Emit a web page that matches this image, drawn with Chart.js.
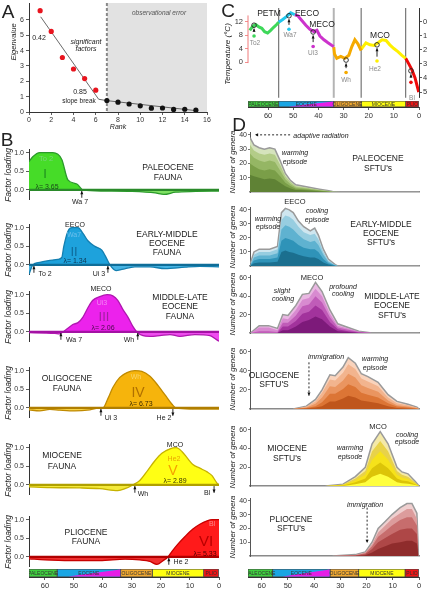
<!DOCTYPE html>
<html lang="en">
<head>
<meta charset="UTF-8">
<title>Factors, faunas and SFTUs</title>
<script src="https://cdn.jsdelivr.net/npm/chart.js@4.4.1/dist/chart.umd.min.js"></script>
<style>
  html, body { margin: 0; padding: 0; background: #fff; }
  #fig { position: relative; width: 431px; height: 592px; overflow: hidden;
         font-family: "Liberation Sans", Arial, sans-serif; color: #222; }
  #fig canvas { position: absolute; }
  .t { position: absolute; transform: translate(-50%, -50%); white-space: nowrap; line-height: 1; z-index: 2; }
  .r { transform: translate(-50%, -50%) rotate(-90deg); }
  .i { font-style: italic; }
</style>
</head>
<body>
<div id="fig"></div>
<script>
// ---------- data ----------
// A: eigenvalues against rank
const rankSig = [1, 2, 3, 4, 5, 6];
const eigSig = [6.6, 5.25, 3.55, 2.8, 2.18, 1.42];
const rankErr = [7, 8, 9, 10, 11, 12, 13, 14, 15];
const eigErr = [0.75, 0.64, 0.52, 0.4, 0.25, 0.26, 0.17, 0.18, 0.12];
const trendRank = [1.05, 6.26, 7, 15];
const trendEig = [6.2, 0.83, 0.74, 0.09];
const rankTicks = [0, 2, 4, 6, 8, 10, 12, 14, 16];
const eigTicks = [0, 1, 2, 3, 4, 5, 6];

// C: temperature curve (Ma, deg C), one piece per epoch
const cPaleoMa = [67.3, 66.1, 64.9, 63.7, 62.5, 61.4, 60.2, 59.0, 57.8, 56.6, 55.8];
const cPaleoT = [9.4, 10.6, 11.1, 10.4, 10.0, 9.0, 8.6, 9.4, 10.3, 11.1, 11.8];
const cEoc1Ma = [55.8, 54.2, 52.6, 51.0, 49.4];
const cEoc1T = [11.8, 12.6, 13.5, 14.6, 14.0];
const cEoc2Ma = [49.4, 48.2, 46.6, 45.0, 43.4, 41.8, 40.6, 39.4, 37.8, 36.2, 34.6, 33.9];
const cEoc2T = [14.0, 13.7, 12.3, 10.9, 9.7, 9.0, 9.4, 7.7, 6.6, 5.7, 4.9, 4.6];
const cOligMa = [33.9, 33.6, 32.7, 31.1, 29.5, 27.9, 26.7, 25.5, 24.3, 23.0];
const cOligT = [4.4, 2.4, 1.1, 1.7, 1.1, 2.0, 4.6, 6.6, 5.4, 3.4];
const cMioMa = [23.0, 21.1, 19.5, 17.9, 16.3, 14.7, 13.1, 11.6, 10.0, 8.4, 6.8, 5.3];
const cMioT = [3.8, 5.7, 5.1, 4.9, 5.7, 6.6, 6.4, 5.1, 4.0, 3.1, 2.0, 1.1];
const cPlioMa = [5.3, 4.0, 2.8, 1.6, 0.8, 0.1];
const cPlioT = [1.1, -0.6, -2.3, -4.6, -6.9, -8.9];
const cMarkNames = ['To2', 'Wa7', 'Ui3', 'Wh', 'He2', 'Bl'];
const cMarkMa = [65.6, 51.7, 42.1, 29.0, 16.7, 3.2];
const cCircleT = [10.9, 13.7, 8.9, 0.6, 5.1, -2.6];
const cDotT = [7.7, 9.7, 4.6, -3.1, 0.3, -6.0];
const tempTicks = [0, 4, 8, 12];
const isoTicks = [0, 1, 2, 3, 4, 5];
const boundaryMa = [55.8, 33.9, 23.0, 5.3];

// epochs
const epochNames = ['PALEOCENE', 'EOCENE', 'OLIGOCENE', 'MIOCENE', 'PLIO'];
const epochStart = [68, 55.8, 33.9, 23.0, 5.3];
const epochEnd = [55.8, 33.9, 23.0, 5.3, 0];
const maTicks = [60, 50, 40, 30, 20, 10, 0];

// B: factor loadings through time
const loadTicks = [0, 0.5, 1];
const b1Ma = [65.5, 64.2, 61.8, 57.3, 54.2, 52.1, 49, 46.9, 40, 30, 22, 19, 15, 8, 0];
const b1Load = [0.76, 0.89, 1.0, 1.0, 0.82, 0.27, 0.16, 0.0, -0.03, -0.04, -0.08, -0.12, -0.06, -0.04, -0.03];
const b2Ma = [65.5, 64.2, 61.8, 58.3, 55.6, 54.2, 53.5, 52.1, 50.7, 48.6, 46.9, 45.2, 42.8, 40.4, 38.6, 37.6, 35.5, 33.5, 29, 23.8, 18.6, 11.7, 6.6, 0];
const b2Load = [-0.25, 0.0, 0.07, 0.12, 0.15, 0.2, 0.5, 0.9, 1.0, 1.0, 0.85, 0.65, 0.5, 0.4, 0.15, 0.0, -0.15, -0.12, -0.05, -0.05, -0.1, -0.06, -0.04, -0.05];
const b3Ma = [65.5, 60, 56.6, 54.9, 53.8, 52.1, 50.4, 48.6, 46.9, 45.2, 43.5, 41.1, 38.6, 36.6, 34.9, 33.1, 31.4, 29.7, 28.3, 26.2, 23.8, 20.4, 16.9, 13.5, 8.3, 3.1, 1, 0];
const b3Load = [-0.02, -0.03, -0.04, -0.05, 0.0, 0.1, 0.2, 0.25, 0.4, 0.65, 0.85, 0.95, 1.0, 0.97, 0.85, 0.6, 0.4, 0.15, 0.0, -0.1, -0.12, -0.1, -0.07, -0.12, -0.07, -0.1, -0.2, -0.25];
const b4Ma = [65.5, 61.8, 58.3, 54.9, 49.7, 44.5, 41.1, 40, 38.3, 36.6, 34.2, 31.7, 29, 26.6, 23.8, 21, 18.6, 16.2, 14.8, 10, 0];
const b4Load = [-0.05, -0.08, -0.04, -0.06, -0.08, -0.05, 0.0, 0.0, 0.25, 0.55, 0.82, 0.95, 1.0, 0.98, 0.85, 0.6, 0.35, 0.1, 0.0, -0.03, -0.03];
const b5Ma = [65.5, 58.3, 48, 41.1, 34.9, 32.4, 29.7, 27.3, 24.5, 22.1, 19.7, 16.9, 14.8, 12.8, 10.7, 9, 6.6, 4.1, 2.4, 0.7, 0];
const b5Load = [-0.05, -0.07, -0.08, -0.1, -0.15, -0.1, 0.0, 0.12, 0.4, 0.65, 0.85, 0.97, 1.0, 0.9, 0.7, 0.55, 0.45, 0.35, 0.25, 0.05, 0.0];
const b6Ma = [65.5, 60, 51.4, 41.1, 32.4, 27.3, 23.8, 21.4, 19.3, 17.6, 16.2, 14.1, 11.7, 9, 6.6, 4.1, 2.4, 0];
const b6Load = [-0.05, -0.08, -0.1, -0.1, -0.06, -0.08, -0.12, -0.2, -0.1, 0.0, 0.15, 0.35, 0.55, 0.75, 0.88, 0.97, 1.0, 1.0];

// D: number of genera per SFTU layer (outermost first)
const d1Ma = [64.5, 63, 61, 59, 57, 55, 53, 51, 49, 47, 44, 41, 38, 35, 33, 30, 0];
const d1Genera = [
  [38, 33, 31, 30, 31, 30, 22, 13, 8, 5, 4, 3, 2, 1, 0.3, 0, 0],
  [33, 29, 27, 26, 27, 26, 19, 11, 7, 4, 3.4, 2.5, 1.6, 0.8, 0.2, 0, 0],
  [27, 24, 22, 21, 22, 21, 15, 9, 5.5, 3.2, 2.7, 2, 1.2, 0.6, 0.1, 0, 0],
  [20, 18, 16, 15, 16, 15, 11, 6.5, 4, 2.3, 2, 1.4, 0.8, 0.4, 0, 0, 0],
  [12, 11, 10, 9, 9.5, 9, 6.5, 4, 2.5, 1.4, 1.2, 0.8, 0.5, 0.2, 0, 0, 0]
];
const d2Ma = [64.3, 63, 61, 57, 54, 52.5, 51, 49.5, 48, 46, 44, 41.5, 39.8, 38.4, 36.5, 34.6, 32, 31, 0];
const d2Genera = [
  [2, 10, 12, 12, 14, 38, 41, 40, 38, 32, 28, 25, 27, 22, 12, 5, 1, 0, 0],
  [1.5, 8, 10, 10, 12, 33, 36, 35, 33, 28, 24, 22, 23, 19, 10, 4, 0.8, 0, 0],
  [1, 6, 7.5, 7.5, 9, 26, 29, 28, 26, 22, 19, 17, 18, 15, 8, 3, 0.5, 0, 0],
  [0.6, 4, 5, 5, 6, 18, 20, 19, 18, 15, 13, 12, 12, 10, 5, 2, 0.3, 0, 0],
  [0.3, 2, 2.5, 2.5, 3, 10, 11, 10, 9.5, 8, 7, 6, 6, 5, 2.5, 1, 0, 0, 0]
];
const d3Ma = [64.3, 61, 57.4, 54, 52, 50, 47, 44.5, 42, 39.5, 37, 34, 31, 27, 23, 18, 0];
const d3Genera = [
  [0, 8, 8, 5, 20, 19, 30, 42, 43, 55, 45, 25, 10, 6, 2, 0, 0],
  [0, 6, 6, 3, 16, 15, 25, 36, 38, 48, 40, 21, 8, 5, 1.5, 0, 0],
  [0, 2, 2, 1, 11, 11, 19, 29, 31, 40, 33, 17, 6, 3.5, 1, 0, 0],
  [0, 0, 0, 0, 7, 7, 13, 21, 23, 30, 25, 12, 4, 2, 0.5, 0, 0],
  [0, 0, 0, 0, 3, 3, 7, 12, 14, 18, 15, 7, 2, 1, 0, 0, 0]
];
const d4Ma = [48, 43, 39.5, 37, 34, 32, 29, 27, 24.3, 22, 19.5, 15.6, 11.8, 8.4, 4.2, 0.8, 0];
const d4Genera = [
  [0, 3, 10, 20, 36, 35, 44, 54, 48, 37, 34, 28, 15, 8, 5, 2, 0],
  [0, 2.5, 8, 17, 31, 30, 38, 47, 42, 32, 29, 24, 12, 6, 4, 1.5, 0],
  [0, 1.5, 5.5, 12, 24, 23, 30, 37, 33, 25, 22, 18, 9, 4, 2.5, 1, 0],
  [0, 1, 3, 7, 16, 16, 21, 26, 23, 17, 15, 12, 6, 2.5, 1.5, 0.5, 0],
  [0, 0.5, 1.5, 3, 8, 8, 11, 14, 12, 9, 8, 6, 3, 1, 0.5, 0, 0]
];
const d5Ma = [35.7, 29, 24.3, 20.5, 17.9, 14.8, 11.8, 8.4, 6.5, 4.2, 1.5, 0];
const d5Genera = [
  [0, 2, 10, 20, 45, 58, 45, 20, 15, 13, 5, 0],
  [0, 1.5, 8, 16, 37, 48, 37, 16, 12, 10, 4, 0],
  [0, 1, 6, 12, 28, 37, 28, 12, 9, 7.5, 3, 0],
  [0, 0.5, 4, 8, 19, 25, 19, 8, 6, 5, 2, 0],
  [0, 0, 2, 4, 10, 13, 10, 4, 3, 2.5, 1, 0]
];
const d6Ma = [33, 24.3, 20.5, 17.9, 15.6, 12.9, 10.3, 7.2, 4.6, 2.7, 0.8, 0.2];
const d6Genera = [
  [0, 1, 3, 10, 20, 25, 30, 35, 38, 38, 31, 0],
  [0, 0.8, 2.5, 8.5, 17, 22, 27, 31, 34, 34, 27, 0],
  [0, 0.5, 2, 7, 14, 18, 22, 26, 28, 28, 22, 0],
  [0, 0.3, 1.3, 5, 10, 13, 16, 19, 20, 20, 16, 0],
  [0, 0, 0.6, 2.5, 5, 7, 9, 10, 11, 11, 9, 0]
];
const genTicks40 = [10, 20, 30, 40];
const genTicks60 = [20, 40, 60];

// ---------- styles ----------
const epochColors = ['#3fcf3f', '#1aa6e4', '#f0a830', '#ffff10', '#ee1515'];
const cColors = ['#3ed85a', '#22c8ee', '#cc33cc', '#f5aa00', '#fff000', '#ee0a0a'];
const bStyles = [
  {fill: '#46dc28', below: '#7ee062', line: '#2b9a2b', zero: '#2a8a2a'},
  {fill: '#1ea2dc', below: '#45b4e4', line: '#147fb0', zero: '#0f6d98'},
  {fill: '#ec22ec', below: '#ef4cef', line: '#b018b0', zero: '#a412a4'},
  {fill: '#f6b40c', below: '#f8d448', line: '#c08a00', zero: '#b07e00'},
  {fill: '#ffff14', below: '#f4ea3a', line: '#c6b200', zero: '#b0a000'},
  {fill: '#ff1a1a', below: '#f03030', line: '#c80000', zero: '#b00000'}
];
const dColors = [
  ['#d5e3bd', '#b3cc88', '#95b664', '#7a9e48', '#5f8235'],
  ['#cfe6ef', '#97cde0', '#5fb2d0', '#2f93b8', '#1b6f8f'],
  ['#e9b8e2', '#d88bd0', '#c05cb8', '#a2339c', '#7d1a7a'],
  ['#f9d3bc', '#f2b48e', '#ea9560', '#dc7535', '#bf561c'],
  ['#f4e9a8', '#e8d24a', '#f6e21a', '#dcc408', '#ffff40'],
  ['#efcfcf', '#dc9c9c', '#c76d6d', '#ae4747', '#8f2c2c']
];

Chart.defaults.font.family = '"Liberation Sans", Arial, sans-serif';
Chart.defaults.font.size = 7;
Chart.defaults.color = '#333';
Chart.defaults.plugins.legend.display = false;
Chart.defaults.plugins.tooltip.enabled = false;
Chart.defaults.elements.point.radius = 0;
Chart.defaults.elements.point.hoverRadius = 0;

const fig = document.getElementById('fig');
const pts = (xs, ys) => xs.map((x, i) => ({x: x, y: ys[i]}));

function drawArrow(ctx, x1, y1, x2, y2, dash) {
  ctx.save();
  ctx.strokeStyle = '#111'; ctx.fillStyle = '#111'; ctx.lineWidth = 0.9;
  if (dash) ctx.setLineDash(dash);
  ctx.beginPath(); ctx.moveTo(x1, y1); ctx.lineTo(x2, y2); ctx.stroke();
  ctx.setLineDash([]);
  const ang = Math.atan2(y2 - y1, x2 - x1), L = 3.5;
  ctx.beginPath();
  ctx.moveTo(x2, y2);
  ctx.lineTo(x2 - L * Math.cos(ang - 0.45), y2 - L * Math.sin(ang - 0.45));
  ctx.lineTo(x2 - L * Math.cos(ang + 0.45), y2 - L * Math.sin(ang + 0.45));
  ctx.closePath(); ctx.fill();
  ctx.restore();
}

// shading, boundary lines, arrows, epoch bar decoration
const extras = {
  id: 'extras',
  beforeDatasetsDraw(chart) {
    const o = chart.options.plugins.extras || {};
    const {ctx, chartArea: a, scales} = chart;
    if (o.shade) {
      const x1 = scales.x.getPixelForValue(o.shade[0]), x2 = scales.x.getPixelForValue(o.shade[1]);
      ctx.save(); ctx.fillStyle = o.shade[2];
      ctx.fillRect(Math.min(x1, x2), a.top, Math.abs(x2 - x1), a.bottom - a.top);
      ctx.restore();
    }
    (o.vlines || []).forEach(v => {
      const x = scales.x.getPixelForValue(v.x);
      ctx.save(); ctx.strokeStyle = v.color; ctx.lineWidth = v.width;
      if (v.dash) ctx.setLineDash(v.dash);
      ctx.beginPath(); ctx.moveTo(x, a.top); ctx.lineTo(x, a.bottom); ctx.stroke();
      ctx.restore();
    });
    if (o.axisLine) {
      const y1 = scales.y.getPixelForValue(o.axisLine[0]), y2 = scales.y.getPixelForValue(o.axisLine[1]);
      ctx.save(); ctx.strokeStyle = o.axisLine[2]; ctx.lineWidth = 1;
      ctx.beginPath(); ctx.moveTo(a.left, y1); ctx.lineTo(a.left, y2); ctx.stroke();
      ctx.restore();
    }
  },
  afterDatasetsDraw(chart) {
    const o = chart.options.plugins.extras || {};
    const {ctx, chartArea: a, scales} = chart;
    if (o.epoch) {
      const xs = scales.x;
      const xa = xs.getPixelForValue(o.epoch[0]), xb = xs.getPixelForValue(o.epoch[1]);
      ctx.save();
      ctx.fillStyle = '#e61ee6';
      ctx.beginPath(); ctx.moveTo(xa, a.bottom - 0.5); ctx.lineTo(xb - 0.5, a.bottom - 0.5); ctx.lineTo(xb - 0.5, a.top + 0.5); ctx.closePath(); ctx.fill();
      ctx.font = '5px "Liberation Sans", Arial, sans-serif';
      ctx.textAlign = 'center'; ctx.textBaseline = 'middle'; ctx.fillStyle = '#333';
      chart.data.datasets.forEach(d => {
        const cx = (xs.getPixelForValue(d.data[0][0]) + xs.getPixelForValue(d.data[0][1])) / 2;
        ctx.fillText(d.label, cx, (a.top + a.bottom) / 2 + 0.5);
      });
      ctx.restore();
    }
  },
  afterDraw(chart) {
    const o = chart.options.plugins.extras || {};
    const {ctx, scales} = chart;
    (o.arrows || []).forEach(r => {
      drawArrow(ctx, scales.x.getPixelForValue(r[0]), scales.y.getPixelForValue(r[1]),
        scales.x.getPixelForValue(r[2]), scales.y.getPixelForValue(r[3]), r[4]);
    });
  }
};
Chart.register(extras);

function fit(size) {
  return s => {
    if (s.isHorizontal()) s.height = size; else s.width = size;
    s.paddingTop = s.paddingBottom = s.paddingLeft = s.paddingRight = 0;
  };
}
const fixTicks = list => axis => { axis.ticks = list.map(v => ({value: v})); };

// area = plot box in page pixels, m = room for axes around it
function panel(area, m, cfg) {
  const w = area.r - area.l + m.l + m.r, h = area.b - area.t + m.t + m.b;
  const cv = document.createElement('canvas');
  cv.width = w; cv.height = h;
  cv.style.left = (area.l - m.l) + 'px'; cv.style.top = (area.t - m.t) + 'px';
  cv.style.width = w + 'px'; cv.style.height = h + 'px';
  fig.appendChild(cv);
  const sc = cfg.options.scales;
  const xOn = sc.x.display !== false, yOn = sc.y.display !== false, y2On = !!sc.y2;
  if (xOn) sc.x.afterFit = fit(m.b);
  if (yOn) sc.y.afterFit = fit(m.l);
  if (y2On) sc.y2.afterFit = fit(m.r);
  cfg.options.layout = {padding: {top: m.t, bottom: xOn ? 0 : m.b, left: yOn ? 0 : m.l, right: y2On ? 0 : m.r}};
  cfg.options.responsive = false;
  cfg.options.animation = false;
  cfg.options.devicePixelRatio = 1;
  return new Chart(cv, cfg);
}

const axisGrid = color => ({drawOnChartArea: false, tickLength: 3, color: color || '#333', lineWidth: 0.8});

// ---------- A ----------
panel({l: 29, t: 3, r: 207, b: 112}, {l: 29, t: 3, r: 8, b: 12}, {
  type: 'line',
  data: {datasets: [
    {data: pts(rankSig, eigSig), showLine: false, pointRadius: 2.6, pointBackgroundColor: '#e8141e', pointBorderWidth: 0},
    {data: pts(rankErr, eigErr), showLine: false, pointRadius: 2.6, pointBackgroundColor: '#111', pointBorderWidth: 0},
    {data: pts(trendRank, trendEig), borderColor: '#444', borderWidth: 0.8}
  ]},
  options: {
    plugins: {extras: {shade: [7, 16, '#e2e2e2'], vlines: [{x: 7, color: '#888', width: 2, dash: [3, 2]}]}},
    scales: {
      x: {type: 'linear', min: 0, max: 16, afterBuildTicks: fixTicks(rankTicks), grid: axisGrid(), border: {color: '#333'}, ticks: {padding: 1}},
      y: {min: 0, max: 7.1, afterBuildTicks: fixTicks(eigTicks), grid: axisGrid(), border: {color: '#333'}, ticks: {padding: 2}}
    }
  }
});

// ---------- C ----------
const cPieces = [[cPaleoMa, cPaleoT], [cEoc1Ma, cEoc1T], [cEoc2Ma, cEoc2T], [cOligMa, cOligT], [cMioMa, cMioT], [cPlioMa, cPlioT]];
panel({l: 248, t: 8, r: 419, b: 101}, {l: 20, t: 8, r: 12, b: 0}, {
  type: 'line',
  data: {datasets: [
    {data: pts(cMarkMa, cCircleT), showLine: false, pointRadius: 2.3, pointBackgroundColor: 'rgba(0,0,0,0)', pointBorderColor: '#222', pointBorderWidth: 0.9},
    {data: pts(cMarkMa, cDotT), showLine: false, pointRadius: 1.8, pointBackgroundColor: cColors.filter((c, i) => i !== 1 || true).slice(0, 6), pointBorderWidth: 0},
    ...cPieces.map((p, i) => ({data: pts(p[0], p[1]), borderColor: cColors[i], borderWidth: 3}))
  ]},
  options: {
    plugins: {extras: {
      vlines: boundaryMa.map((v, i) => ({x: v, color: i === 1 ? '#b4b4b4' : '#6a6a6a', width: i === 1 ? 2 : 1.1})),
      axisLine: [-0.3, 13.8, '#f07a7a'],
      arrows: cMarkMa.map((m, i) => [m, cDotT[i] + 1.3, m, cCircleT[i] - 1.0])
    }},
    scales: {
      x: {type: 'linear', reverse: true, min: 0, max: 68, display: false},
      y: {min: -10.57, max: 16, afterBuildTicks: fixTicks(tempTicks), grid: axisGrid('#f07070'), border: {display: false}, ticks: {padding: 2, font: {size: 7.5}}},
      y2: {position: 'right', reverse: true, min: -0.96, max: 5.41, afterBuildTicks: fixTicks(isoTicks), grid: axisGrid(), border: {color: '#333'}, ticks: {padding: 1, font: {size: 7.5}}}
    }
  }
});

// ---------- epoch bars ----------
function epochBar(area, maxMa) {
  panel(area, {l: 0, t: 1, r: 4, b: 14}, {
    type: 'bar',
    data: {labels: ['e'], datasets: epochNames.map((n, i) => ({
      label: n, data: [[Math.min(epochStart[i], maxMa), epochEnd[i]]],
      backgroundColor: epochColors[i], borderColor: '#444', borderWidth: 0.8, borderSkipped: false,
      grouped: false, barPercentage: 1, categoryPercentage: 1
    }))},
    options: {
      indexAxis: 'y',
      plugins: {extras: {epoch: [52, 33.9]}},
      scales: {
        x: {type: 'linear', reverse: true, min: 0, max: maxMa, afterBuildTicks: fixTicks(maTicks), grid: axisGrid(), border: {color: '#333'}, ticks: {padding: 1, font: {size: 7.5}}},
        y: {display: false}
      }
    }
  });
}
epochBar({l: 248, t: 101, r: 419, b: 107}, 68);
epochBar({l: 29, t: 569, r: 219, b: 577}, 65.5);
epochBar({l: 248, t: 569, r: 419, b: 577}, 65.2);

// ---------- B ----------
const bZero = [190, 265, 332, 408, 485, 557];
const bSeries = [[b1Ma, b1Load], [b2Ma, b2Load], [b3Ma, b3Load], [b4Ma, b4Load], [b5Ma, b5Load], [b6Ma, b6Load]];
const bArrows = [
  [[47.3, -0.21, 47.3, -0.03]],
  [[63.8, -0.21, 63.8, -0.03], [38.3, -0.21, 38.3, -0.03]],
  [[54.5, -0.21, 54.5, -0.03], [28.0, -0.21, 28.0, -0.03]],
  [[40.7, -0.21, 40.7, -0.03], [15.9, -0.03, 15.9, -0.21]],
  [[29.0, -0.21, 29.0, -0.03], [1.7, -0.03, 1.7, -0.21]],
  [[17.3, -0.21, 17.3, -0.03]]
];
bSeries.forEach((s, k) => {
  const st = bStyles[k], z = bZero[k];
  panel({l: 29, t: z - 41, r: 219, b: z + 10}, {l: 29, t: 3, r: 2, b: 0}, {
    type: 'line',
    data: {datasets: [
      {data: pts([65.5, 0], [0, 0]), borderColor: st.zero, borderWidth: 2.2},
      {data: pts(s[0], s[1]), borderColor: st.line, borderWidth: 1.3, tension: 0.4, cubicInterpolationMode: 'monotone',
       fill: {target: 'origin', above: st.fill, below: st.below}}
    ]},
    options: {
      plugins: {extras: {arrows: bArrows[k]}},
      scales: {
        x: {type: 'linear', reverse: true, min: 0, max: 65.5, display: false},
        y: {min: -0.27, max: 1.1, afterBuildTicks: fixTicks(loadTicks), grid: axisGrid(), border: {color: '#333'},
            ticks: {padding: 2, callback: v => Number(v).toFixed(1)}}
      }
    }
  });
});

// ---------- D ----------
const dSeries = [[d1Ma, d1Genera], [d2Ma, d2Genera], [d3Ma, d3Genera], [d4Ma, d4Genera], [d5Ma, d5Genera], [d6Ma, d6Genera]];
const dZero = [192, 266, 333, 409, 486, 556];
const dTopTick = [40, 40, 60, 60, 60, 40];
const dTopPx = [135, 210, 278, 352, 430, 501];
const dArrows = [
  [[49.2, 40, 62.6, 40, [2, 2]]],
  [],
  [],
  [[42, 49, 42, 14, [2, 2]]],
  [],
  [[19.8, 35, 19.8, 9.5, [2, 2]]]
];
const dTop = [];
dSeries.forEach((s, k) => {
  const per = (dZero[k] - dTopPx[k]) / dTopTick[k];
  const maxV = dTopTick[k] * 1.05;
  const top = Math.round(dZero[k] - maxV * per);
  dTop.push(top);
  const ds = s[1].map((vals, i) => ({
    data: pts(s[0], vals), fill: 'origin', backgroundColor: dColors[k][i],
    borderColor: i === 0 ? '#9a9a9a' : 'rgba(0,0,0,0)', borderWidth: i === 0 ? 1.5 : 0
  })).reverse();
  panel({l: 250, t: top, r: 419, b: dZero[k]}, {l: 14, t: 4, r: 2, b: 2}, {
    type: 'line',
    data: {datasets: ds},
    options: {
      plugins: {extras: {arrows: dArrows[k]}},
      scales: {
        x: {type: 'linear', reverse: true, min: 0, max: 64.5, ticks: {display: false}, grid: {display: false}, border: {color: '#8a8a8a', width: 1.5}},
        y: {min: 0, max: maxV, afterBuildTicks: fixTicks(dTopTick[k] === 40 ? genTicks40 : genTicks60),
            grid: {drawOnChartArea: false, tickLength: 2, color: '#555', lineWidth: 0.8}, border: {color: '#555'}, ticks: {padding: 1}}
      }
    }
  });
});

// ---------- text ----------
function note(x, y, text, size, color, cls) {
  const d = document.createElement('div');
  d.className = 't ' + (cls || '');
  d.style.left = x + 'px'; d.style.top = y + 'px';
  d.style.fontSize = size + 'px';
  if (color) d.style.color = color;
  d.textContent = text;
  fig.appendChild(d);
}

// panel letters
note(8, 11, 'A', 19); note(7, 139, 'B', 19); note(228, 10, 'C', 19); note(239, 124, 'D', 19);

// A
note(14, 42, 'Eigenvalue', 7.5, null, 'i r');
note(118, 126, 'Rank', 7, null, 'i');
note(39, 37, '0.42', 7);
note(86, 41, 'significant', 7, null, 'i'); note(86, 48, 'factors', 7, null, 'i');
note(80, 91, '0.85', 7);
note(79, 101, 'slope break', 6.5);
note(159, 13, 'observational error', 6.5, '#555', 'i');

// C
note(228, 54, 'Temperature (°C)', 8, null, 'i r');
note(269, 13, 'PETM', 8.5); note(307, 13, 'EECO', 8.5); note(322, 24, 'MECO', 8.5); note(380, 35, 'MCO', 8.5);
const cLabelPos = [[255, 43], [290, 35], [313, 53], [346, 80], [375, 69], [412, 98]];
cMarkNames.forEach((n, i) => note(cLabelPos[i][0], cLabelPos[i][1], n, 6.5, '#888'));

// B
bZero.forEach(z => note(8, z - 15, 'Factor loading', 8.5, null, 'i r'));
note(46, 159, 'To 2', 7.5, '#7bd67b'); note(45, 173, 'I', 13, '#1f8f1f'); note(47, 186, 'λ= 3.65', 7, '#1a4a1a');
note(168, 167, 'PALEOCENE', 8.5); note(168, 177, 'FAUNA', 8.5);
note(80, 201, 'Wa 7', 7);

note(75, 224, 'EECO', 7); note(74, 234, 'Wa7', 7, '#6cc0ee'); note(74, 251, 'II', 13, '#0f6a9a'); note(75, 260, 'λ= 1.34', 7, '#0d3550');
note(167, 234, 'EARLY-MIDDLE', 8.5); note(167, 243, 'EOCENE', 8.5); note(167, 252, 'FAUNA', 8.5);
note(45, 273, 'To 2', 7); note(99, 273, 'Ui 3', 7);

note(101, 288, 'MECO', 7); note(102, 302, 'Ui3', 7, '#f48af4'); note(104, 316, 'III', 13, '#a020a0'); note(103, 327, 'λ= 2.06', 7, '#4a0a4a');
note(180, 297, 'MIDDLE-LATE', 8.5); note(180, 306, 'EOCENE', 8.5); note(180, 316, 'FAUNA', 8.5);
note(74, 339, 'Wa 7', 7); note(129, 339, 'Wh', 7);

note(136, 376, 'Wh', 7, '#f8d468'); note(138, 392, 'IV', 14, '#b07000'); note(141, 403, 'λ= 6.73', 7, '#3a2800');
note(67, 378, 'OLIGOCENE', 8.5); note(67, 388, 'FAUNA', 8.5);
note(111, 417, 'Ui 3', 7); note(164, 417, 'He 2', 7);

note(175, 444, 'MCO', 7); note(174, 458, 'He2', 7, '#eaa800'); note(173, 470, 'V', 14, '#f5a000'); note(175, 480, 'λ= 2.89', 7, '#3a3400');
note(62, 455, 'MIOCENE', 8.5); note(62, 466, 'FAUNA', 8.5);
note(143, 493, 'Wh', 7); note(207, 492, 'Bl', 7);

note(212, 523, 'Bl', 7, '#ff8a8a'); note(206, 540, 'VI', 15, '#b80000'); note(205, 553, 'λ= 5.33', 7, '#4a0000');
note(86, 532, 'PLIOCENE', 8.5); note(86, 541, 'FAUNA', 8.5);
note(181, 561, 'He 2', 7);

// D
dZero.forEach((z, k) => note(233, (z + dTop[k]) / 2, 'Number of genera', 7.8, null, 'i r'));
note(321, 135, 'adaptive radiation', 7, null, 'i');
note(295, 152, 'warming', 7, null, 'i'); note(295, 161, 'episode', 7, null, 'i');
note(378, 158, 'PALEOCENE', 8.5); note(378, 168, "SFTU's", 8.5);

note(295, 202, 'EECO', 7.5);
note(317, 210, 'cooling', 7, null, 'i'); note(317, 219, 'episode', 7, null, 'i');
note(268, 218, 'warming', 7, null, 'i'); note(268, 226, 'episode', 7, null, 'i');
note(381, 224, 'EARLY-MIDDLE', 8.5); note(381, 233, 'EOCENE', 8.5); note(381, 242, "SFTU's", 8.5);

note(312, 278, 'MECO', 7.5);
note(282, 290, 'slight', 7, null, 'i'); note(283, 298, 'cooling', 7, null, 'i');
note(343, 286, 'profound', 7, null, 'i'); note(343, 293, 'cooling', 7, null, 'i');
note(392, 296, 'MIDDLE-LATE', 8.5); note(392, 305, 'EOCENE', 8.5); note(392, 315, "SFTU's", 8.5);

note(326, 356, 'immigration', 7, null, 'i');
note(375, 358, 'warming', 7, null, 'i'); note(375, 367, 'episode', 7, null, 'i');
note(274, 375, 'OLIGOCENE', 8.5); note(274, 384, "SFTU'S", 8.5);

note(378, 427, 'MCO', 7.5);
note(407, 434, 'cooling', 7, null, 'i'); note(407, 441, 'episode', 7, null, 'i');
note(350, 447, 'warming', 7, null, 'i'); note(350, 456, 'episode', 7, null, 'i');
note(287, 448, 'MIOCENE', 8.5); note(287, 458, "SFTU's", 8.5);

note(365, 504, 'immigration', 7, null, 'i');
note(291, 519, 'PLIOCENE', 8.5); note(291, 528, "SFTU's", 8.5);
</script>
</body>
</html>
